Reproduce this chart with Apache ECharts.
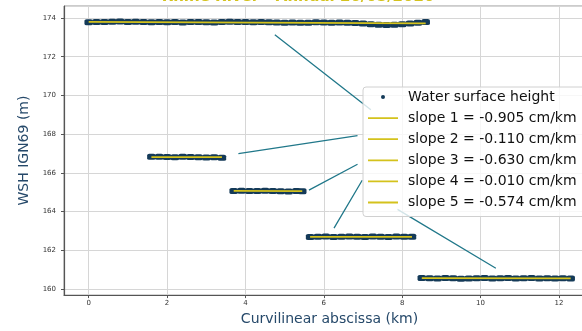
<!DOCTYPE html>
<html>
<head>
<meta charset="utf-8">
<script src="https://cdn.jsdelivr.net/npm/echarts@6/dist/echarts.min.js"></script>
<style>
html, body { margin: 0; padding: 0; overflow: hidden; background: #fff; }
#main { width: 600px; height: 331px; }
</style>
</head>
<body>
<div id="main"></div>
<script>
// water surface height samples, one pair of arrays per reach (km, m)
var seg1X = [0.0,0.2,0.4,0.6,0.8,1.0,1.2,1.4,1.6,1.8,2.0,2.2,2.4,2.6,2.8,3.0,3.2,3.4,3.6,3.8,4.0,4.2,4.4,4.6,4.8,5.0,5.2,5.4,5.6,5.8,6.0,6.2,6.4,6.6,6.8,7.0,7.2,7.4,7.6,7.8,8.0,8.2,8.4,8.6];
var seg1Y = [173.78,173.79,173.80,173.81,173.82,173.80,173.81,173.79,173.78,173.80,173.78,173.79,173.77,173.79,173.80,173.78,173.77,173.79,173.81,173.80,173.79,173.78,173.80,173.78,173.77,173.76,173.77,173.75,173.76,173.78,173.77,173.75,173.77,173.76,173.74,173.72,173.68,173.65,173.64,173.65,173.68,173.72,173.75,173.79];
var seg2X = [1.6,1.8,2.0,2.2,2.4,2.6,2.8,3.0,3.2,3.4];
var seg2Y = [166.83,166.84,166.82,166.81,166.83,166.82,166.81,166.80,166.81,166.78];
var seg3X = [3.7,3.9,4.1,4.3,4.5,4.7,4.9,5.1,5.3,5.45];
var seg3Y = [165.07,165.08,165.06,165.07,165.08,165.06,165.05,165.04,165.06,165.05];
var seg4X = [5.65,5.85,6.05,6.25,6.45,6.65,6.85,7.05,7.25,7.45,7.65,7.85,8.05,8.25];
var seg4Y = [162.69,162.70,162.71,162.69,162.70,162.72,162.70,162.69,162.71,162.70,162.69,162.71,162.70,162.70];
var seg5X = [8.5,8.7,8.9,9.1,9.3,9.5,9.7,9.9,10.1,10.3,10.5,10.7,10.9,11.1,11.3,11.5,11.7,11.9,12.1,12.3];
var seg5Y = [160.57,160.56,160.55,160.57,160.56,160.54,160.55,160.56,160.57,160.55,160.56,160.57,160.55,160.56,160.57,160.55,160.56,160.55,160.56,160.55];

// linear fits per reach
var fitNames = ['slope 1 = -0.905 cm/km','slope 2 = -0.110 cm/km','slope 3 = -0.630 cm/km','slope 4 = -0.010 cm/km','slope 5 = -0.574 cm/km'];
var fitX = [[0.0, 8.6], [1.6, 3.4], [3.7, 5.45], [5.65, 8.25], [8.5, 12.3]];
var fitY = [[173.80, 173.72], [166.82, 166.82], [165.07, 165.06], [162.70, 162.70], [160.57, 160.55]];

// annotation lines from legend entries to reaches
var noteX = [[4.75, 7.20], [3.82, 6.86], [5.62, 6.86], [6.26, 6.98], [7.88, 10.39]];
var noteY = [[173.13, 169.26], [167.00, 167.93], [165.11, 166.45], [163.15, 165.62], [164.12, 161.08]];

var title = 'Rhine River - Annual 26/05/2020';

var ptColor = '#143a58', fitColor = '#d4c21c', noteColor = '#21788a', axisNameColor = '#26496a';

var segsX = [seg1X, seg2X, seg3X, seg4X, seg5X];
var segsY = [seg1Y, seg2Y, seg3Y, seg4Y, seg5Y];
var points = [];
segsX.forEach(function (xs, k) {
    xs.forEach(function (x, i) { points.push([x, segsY[k][i]]); });
});

var notes = [];
noteX.forEach(function (xs, k) {
    notes.push([xs[0], noteY[k][0]], [xs[1], noteY[k][1]], '-');
});

var series = [
    {
        name: 'Water surface height',
        type: 'scatter',
        symbol: 'roundRect',
        symbolSize: [8.5, 6],
        itemStyle: { color: ptColor, opacity: 1 },
        data: points,
        z: 2
    },
    {
        type: 'line',
        data: notes,
        symbol: 'none',
        connectNulls: false,
        lineStyle: { color: noteColor, width: 1.3 },
        silent: true,
        z: 1
    }
];
fitNames.forEach(function (n, k) {
    series.push({
        name: n,
        type: 'line',
        symbol: 'none',
        showSymbol: false,
        lineStyle: { color: fitColor, width: 1.8 },
        itemStyle: { color: fitColor },
        data: [[fitX[k][0], fitY[k][0]], [fitX[k][1], fitY[k][1]]],
        z: 3
    });
});

var dotIcon = 'path://M0,0L0.01,0M30,14L30,13.99M17,7A2,2,0,1,1,13,7A2,2,0,1,1,17,7Z';
var lineIcon = 'path://M0,0L0.01,0M30,14L30,13.99M0,6.1L30,6.1L30,7.9L0,7.9Z';

var legendData = [{ name: 'Water surface height', icon: dotIcon }];
fitNames.forEach(function (n) { legendData.push({ name: n, icon: lineIcon }); });

var myChart = echarts.init(document.getElementById('main'));
myChart.setOption({
    animation: false,
    title: {
        text: title,
        left: 293, top: -15,
        textAlign: 'center',
        textStyle: { color: fitColor, fontSize: 15, fontWeight: 'bold', fontFamily: 'DejaVu Sans' }
    },
    grid: {
        left: 64, top: 6, right: 5, bottom: 35,
        show: true, borderColor: '#999', borderWidth: 1
    },
    legend: {
        orient: 'vertical',
        left: 363, top: 87,
        itemWidth: 30, itemHeight: 14, itemGap: 7.1,
        padding: [3, 30, 7, 5],
        backgroundColor: 'rgba(255,255,255,0.8)',
        borderColor: '#d0d0d0', borderWidth: 1, borderRadius: 3,
        textStyle: { fontSize: 14, fontFamily: 'DejaVu Sans', color: '#111', padding: [0, 0, 0, 5] },
        data: legendData
    },
    xAxis: {
        type: 'value',
        min: -0.63, max: 12.92,
        splitNumber: 7,
        name: 'Curvilinear abscissa (km)',
        nameLocation: 'middle', nameGap: 16,
        nameTextStyle: { fontSize: 14, fontFamily: 'DejaVu Sans', color: axisNameColor },
        axisLine: { onZero: false, lineStyle: { color: '#555', width: 1.2 } },
        axisTick: { length: 3, lineStyle: { color: '#555' } },
        axisLabel: { showMinLabel: false, showMaxLabel: false, margin: 5, fontSize: 7, color: '#333', fontFamily: 'DejaVu Sans' },
        splitLine: { lineStyle: { color: '#d6d6d6', width: 1 } }
    },
    yAxis: {
        type: 'value',
        min: 159.69, max: 174.62,
        splitNumber: 7,
        name: 'WSH IGN69 (m)',
        nameLocation: 'middle', nameGap: 24,
        nameTextStyle: { fontSize: 14, fontFamily: 'DejaVu Sans', color: axisNameColor },
        axisLine: { show: true, onZero: false, lineStyle: { color: '#555', width: 1.2 } },
        axisTick: { show: true, length: 3, lineStyle: { color: '#555' } },
        axisLabel: { showMinLabel: false, showMaxLabel: false, margin: 8, fontSize: 7, color: '#333', fontFamily: 'DejaVu Sans' },
        splitLine: { lineStyle: { color: '#d6d6d6', width: 1 } }
    },
    series: series
});
</script>
</body>
</html>
